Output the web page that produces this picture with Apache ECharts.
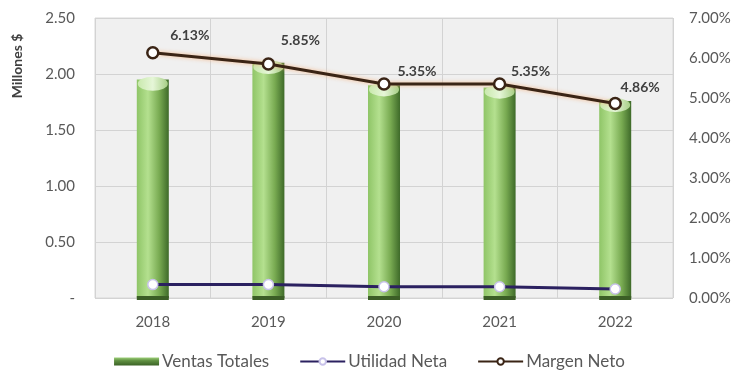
<!DOCTYPE html>
<html><head><meta charset="utf-8">
<script src="https://cdn.jsdelivr.net/npm/echarts@6/dist/echarts.min.js"></script>
<style>html,body{margin:0;padding:0;background:#fff}#c{width:739px;height:377px}</style>
</head><body><div id="c"></div>
<script>
const years = ['2018','2019','2020','2021','2022'];
const ventasTotales = [1.95, 2.10, 1.90, 1.88, 1.76];
const utilidadNeta = [0.12, 0.12, 0.10, 0.10, 0.08];
const margenNeto = [6.13, 5.85, 5.35, 5.35, 4.86];
const leftTicks = ['-', '0.50', '1.00', '1.50', '2.00', '2.50'];

const FONT = 'Lato';
const labelOffsets = [[37,1],[32,-5],[33,6],[31,6],[25,3]];
const chart = echarts.init(document.getElementById('c'));
chart.setOption({
  animation: false,
  textStyle: {fontFamily: FONT},
  grid: {left: 95, right: 66, top: 18, bottom: 79, show: true, backgroundColor: '#f0f0f0', borderColor: '#d8d8d8', borderWidth: 1},
  graphic: [{
    type: 'text', x: 17, y: 66, rotation: Math.PI / 2,
    style: {text: 'Millones $', fill: '#404040', font: 'bold 14px Lato', align: 'center', verticalAlign: 'middle'}
  }],
  legend: {
    bottom: 2, left: 'center', itemWidth: 45, itemHeight: 8, itemGap: 30,
    textStyle: {color: '#595959', fontSize: 17, fontFamily: FONT, padding: [0, 0, 0, -2]},
    data: [
      {name: 'Ventas Totales', icon: 'rect', itemStyle: {color: new echarts.graphic.LinearGradient(0, 0, 0, 1, [
        {offset: 0, color: '#9ccf78'}, {offset: 0.4, color: '#5f8f41'}, {offset: 1, color: '#3b6226'}])}},
      {name: 'Utilidad Neta'},
      {name: 'Margen Neto'}
    ]
  },
  xAxis: {
    type: 'category', data: years,
    axisLine: {show: false}, axisTick: {show: false},
    axisLabel: {color: '#595959', fontSize: 15, margin: 17},
    splitLine: {show: true, interval: 0, lineStyle: {color: '#d3d3d3'}}
  },
  yAxis: [
    {type: 'value', min: 0, max: 2.5, interval: 0.5,
     axisLine: {show: false}, axisTick: {show: false},
     axisLabel: {color: '#595959', fontSize: 15, margin: 20, formatter: (v) => leftTicks[Math.round(v / 0.5)]},
     splitLine: {lineStyle: {color: '#d3d3d3'}}},
    {type: 'value', min: 0, max: 7, interval: 1, position: 'right',
     axisLine: {show: false}, axisTick: {show: false},
     axisLabel: {color: '#595959', fontSize: 15, margin: 16, formatter: (v) => v.toFixed(2) + '%'},
     splitLine: {show: false}}
  ],
  series: [
    {name: 'Ventas Totales', type: 'bar', data: ventasTotales, barWidth: 32, z: 2,
     itemStyle: {color: new echarts.graphic.LinearGradient(0, 0, 1, 0, [
       {offset: 0, color: '#8fc567'}, {offset: 0.35, color: '#b4e08f'},
       {offset: 0.7, color: '#79ab52'}, {offset: 1, color: '#3e6a29'}])}},
    {name: 'Ventas Totales', type: 'pictorialBar', data: ventasTotales, z: 3,
     symbol: 'circle', symbolSize: [30, 14], symbolPosition: 'end', symbolOffset: [0, '-20%'],
     itemStyle: {color: new echarts.graphic.LinearGradient(0, 0, 1, 0, [
       {offset: 0, color: '#c9e9ad'}, {offset: 0.5, color: '#e6f6d8'}, {offset: 1, color: '#a7cf86'}])},
     tooltip: {show: false}},
    {name: 'Ventas Totales', type: 'pictorialBar', data: ventasTotales.map(() => 0), z: 3,
     symbol: 'rect', symbolSize: [32, 4], symbolPosition: 'end', symbolOffset: [0, '-50%'],
     itemStyle: {color: '#3b5e26'}},
    {name: 'Utilidad Neta', type: 'line', data: utilidadNeta, yAxisIndex: 0, z: 5,
     symbol: 'circle', symbolSize: 10,
     lineStyle: {color: '#2b2160', width: 3},
     itemStyle: {color: '#ffffff', borderColor: '#c8c2ea', borderWidth: 1.5}},
    {name: 'Margen Neto', type: 'line', data: margenNeto.map((v, i) => ({
        value: v, label: {offset: labelOffsets[i]}})), yAxisIndex: 1, z: 6,
     symbol: 'circle', symbolSize: 11,
     lineStyle: {color: '#3a2415', width: 3, shadowColor: 'rgba(245,180,130,0.9)', shadowBlur: 4},
     itemStyle: {color: '#ffffff', borderColor: '#3a2415', borderWidth: 2.5},
     label: {show: true, position: 'top', color: '#404040', fontWeight: 'bold', fontSize: 14,
       formatter: (p) => p.value.toFixed(2) + '%'}}
  ]
});
</script></body></html>
